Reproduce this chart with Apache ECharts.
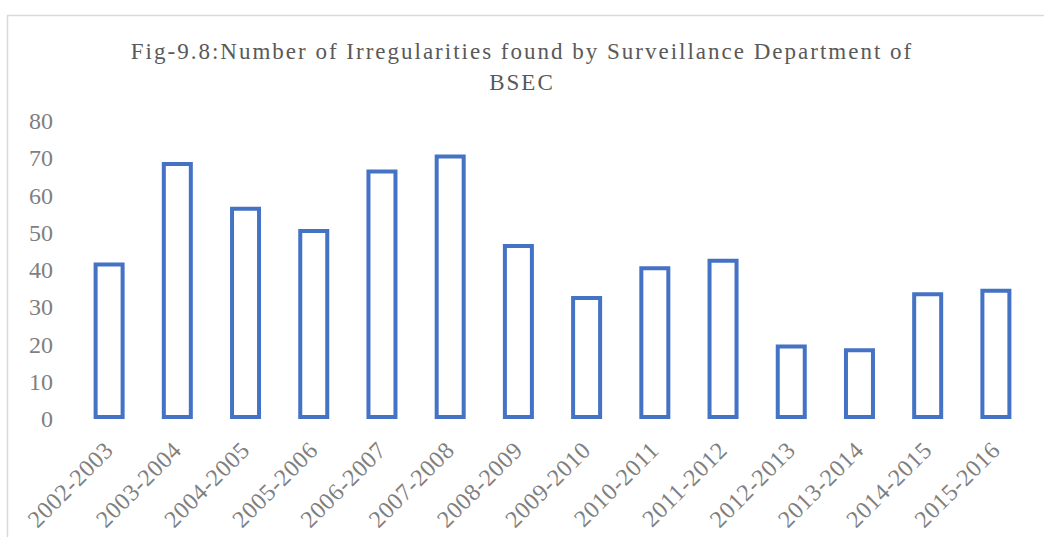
<!DOCTYPE html>
<html>
<head>
<meta charset="utf-8">
<script src="https://cdn.jsdelivr.net/npm/echarts@6/dist/echarts.min.js"></script>
<style>html,body{margin:0;padding:0;background:#fff}#c{width:1044px;height:537px}</style>
</head>
<body>
<div id="c"></div>
<script>
var categories = ['2002-2003','2003-2004','2004-2005','2005-2006','2006-2007','2007-2008','2008-2009','2009-2010','2010-2011','2011-2012','2012-2013','2013-2014','2014-2015','2015-2016'];
var irregularities = [42, 69, 57, 51, 67, 71, 47, 33, 41, 43, 20, 19, 34, 35];
var yTicks = [0, 10, 20, 30, 40, 50, 60, 70, 80];
var titleLines = ['Fig-9.8:Number of Irregularities found by Surveillance Department of', 'BSEC'];

var chart = echarts.init(document.getElementById('c'), null, {renderer: 'svg'});
var font = "'Liberation Serif', 'Times New Roman', serif";
chart.setOption({
  animation: false,
  backgroundColor: '#ffffff',
  graphic: [{
    type: 'rect', left: 5, top: 13, silent: true,
    shape: {width: 1100, height: 600},
    style: {fill: 'none', stroke: '#d9d9d9', lineWidth: 1.5}
  }],
  title: {
    text: titleLines.join('\n'),
    left: 'center', top: 31,
    textStyle: {fontFamily: font, fontSize: 23, fontWeight: 'normal', color: '#595959', lineHeight: 31}
  },
  grid: {left: 75, right: 14, top: 121, bottom: 118, containLabel: false},
  xAxis: {
    type: 'category', data: categories,
    axisLine: {show: false}, axisTick: {show: false},
    axisLabel: {rotate: 45, interval: 0, margin: 27, fontFamily: font, fontSize: 24, color: '#7f7f7f'}
  },
  yAxis: {
    type: 'value', min: yTicks[0], max: yTicks[yTicks.length - 1], interval: 10,
    splitLine: {show: false}, axisLine: {show: false}, axisTick: {show: false},
    axisLabel: {margin: 22, fontFamily: font, fontSize: 24, color: '#7f7f7f'}
  },
  series: [{
    type: 'bar', data: irregularities, barWidth: 31,
    itemStyle: {color: '#ffffff', borderColor: '#4472C4', borderWidth: 4}
  }]
});

function spaceText() {
  var texts = document.querySelectorAll('#c svg text');
  texts.forEach(function (t) {
    var s = t.textContent;
    if (titleLines.indexOf(s) >= 0) {
      t.style.letterSpacing = '2px';
    } else if (categories.indexOf(s) >= 0) {
      t.style.letterSpacing = '0.6px';
    }
  });
}
spaceText();
chart.on('finished', spaceText);
</script>
</body>
</html>
